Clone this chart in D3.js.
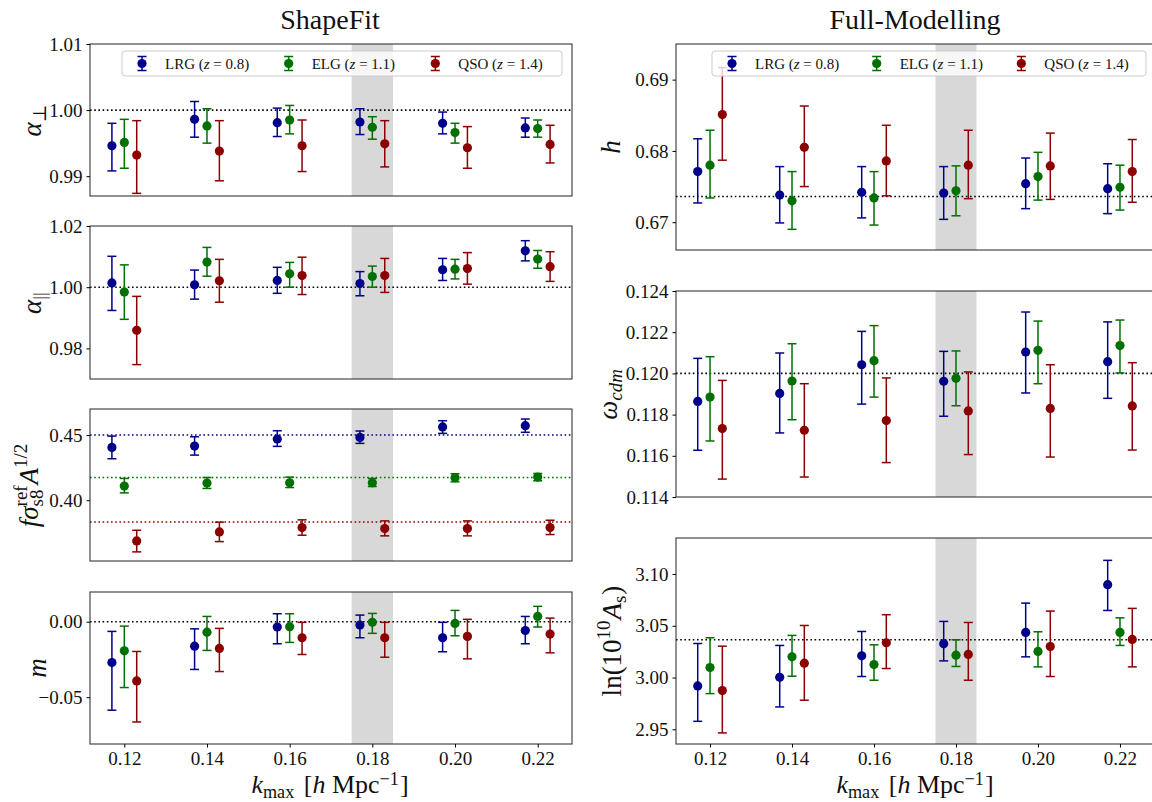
<!DOCTYPE html>
<html><head><meta charset="utf-8">
<script src="https://cdn.jsdelivr.net/npm/d3@7"></script>
<style>
body{margin:0;background:#fff;}
text{font-family:"Liberation Serif","DejaVu Serif",serif;fill:#111;white-space:pre;}
</style></head>
<body><svg id="c" width="1152" height="802"></svg>
<script>
// ---------- data ----------
const kmax = [0.12, 0.14, 0.16, 0.18, 0.20, 0.22];
const dodge = [-0.003, 0, 0.003];
const tracers = ["LRG", "ELG", "QSO"];
const redshifts = ["0.8", "1.1", "1.4"];
const colors = ["#00008b", "#007000", "#8b0000"];
const bandRange = [0.175, 0.185];
const xTicks = [0.12, 0.14, 0.16, 0.18, 0.20, 0.22];

// each entry: [value, lower, upper]
const aperpLRG = [[0.9946,0.9908,0.9980],[0.9986,0.9959,1.0013],[0.9981,0.9960,1.0003],[0.9982,0.9963,1.0002],[0.9980,0.9964,0.9997],[0.9973,0.9959,0.9988]];
const aperpELG = [[0.9951,0.9912,0.9986],[0.9976,0.9950,1.0002],[0.9985,0.9964,1.0007],[0.9974,0.9956,0.9990],[0.9966,0.9950,0.9980],[0.9972,0.9959,0.9985]];
const aperpQSO = [[0.9932,0.9874,0.9984],[0.9938,0.9893,0.9984],[0.9946,0.9907,0.9985],[0.9949,0.9914,0.9984],[0.9943,0.9912,0.9975],[0.9948,0.9920,0.9977]];

const aparLRG = [[1.0014,0.9924,1.0101],[1.0008,0.9961,1.0056],[1.0022,0.9980,1.0065],[1.0012,0.9972,1.0051],[1.0057,1.0022,1.0094],[1.0119,1.0086,1.0152]];
const aparELG = [[0.9984,0.9895,1.0073],[1.0082,1.0036,1.0130],[1.0044,1.0000,1.0081],[1.0035,1.0000,1.0069],[1.0059,1.0027,1.0091],[1.0092,1.0062,1.0120]];
const aparQSO = [[0.9859,0.9747,0.9970],[1.0021,0.9951,1.0091],[1.0038,0.9976,1.0098],[1.0038,0.9983,1.0094],[1.0061,1.0010,1.0113],[1.0067,1.0019,1.0116]];

const fsLRG = [[0.4405,0.4318,0.4492],[0.4415,0.4346,0.4487],[0.4469,0.4413,0.4533],[0.4482,0.4436,0.4531],[0.4562,0.4513,0.4610],[0.4572,0.4521,0.4623]];
const fsELG = [[0.4108,0.4056,0.4167],[0.4131,0.4090,0.4174],[0.4133,0.4097,0.4177],[0.4133,0.4105,0.4167],[0.4172,0.4141,0.4203],[0.4177,0.4149,0.4205]];
const fsQSO = [[0.3687,0.3603,0.3769],[0.3756,0.3682,0.3831],[0.3790,0.3731,0.3849],[0.3782,0.3726,0.3841],[0.3782,0.3726,0.3841],[0.3790,0.3736,0.3846]];
const fsRef = [0.450, 0.4174, 0.3833];

const mLRG = [[-0.0270,-0.0586,-0.0064],[-0.0162,-0.0316,-0.0047],[-0.0035,-0.0146,0.0053],[-0.0022,-0.0106,0.0044],[-0.0106,-0.0199,-0.0004],[-0.0058,-0.0146,0.0035]];
const mELG = [[-0.0193,-0.0436,-0.0029],[-0.0069,-0.0190,0.0035],[-0.0033,-0.0137,0.0053],[-0.0004,-0.0077,0.0055],[-0.0011,-0.0093,0.0075],[0.0035,-0.0035,0.0102]];
const mQSO = [[-0.0392,-0.0664,-0.0197],[-0.0177,-0.0330,-0.0044],[-0.0106,-0.0217,-0.0004],[-0.0106,-0.0235,-0.0004],[-0.0097,-0.0246,0.0016],[-0.0082,-0.0206,0.0024]];

const hLRG = [[0.6771,0.6727,0.6817],[0.6738,0.6699,0.6778],[0.6742,0.6706,0.6778],[0.6741,0.6704,0.6778],[0.6754,0.6719,0.6790],[0.6747,0.6712,0.6782]];
const hELG = [[0.6780,0.6734,0.6829],[0.6730,0.6690,0.6771],[0.6734,0.6696,0.6771],[0.6744,0.6709,0.6779],[0.6764,0.6731,0.6798],[0.6749,0.6717,0.6780]];
const hQSO = [[0.6851,0.6787,0.6917],[0.6805,0.6750,0.6863],[0.6786,0.6737,0.6836],[0.6780,0.6733,0.6829],[0.6779,0.6732,0.6825],[0.6771,0.6728,0.6816]];

const wcLRG = [[0.11864,0.11627,0.12073],[0.11903,0.11711,0.12099],[0.12042,0.11851,0.12204],[0.11962,0.11792,0.12107],[0.12104,0.11905,0.12298],[0.12057,0.11879,0.12250]];
const wcELG = [[0.11885,0.11672,0.12081],[0.11963,0.11775,0.12144],[0.12062,0.11885,0.12232],[0.11976,0.11843,0.12109],[0.12112,0.11950,0.12254],[0.12135,0.12002,0.12259]];
const wcQSO = [[0.11732,0.11487,0.11966],[0.11724,0.11497,0.11950],[0.11771,0.11567,0.11978],[0.11818,0.11606,0.12007],[0.11830,0.11594,0.12042],[0.11842,0.11628,0.12052]];

const asLRG = [[2.9919,2.9577,3.0329],[3.0003,2.9716,3.0310],[3.0210,3.0010,3.0445],[3.0326,3.0161,3.0542],[3.0436,3.0200,3.0719],[3.0897,3.0648,3.1132]];
const asELG = [[3.0097,2.9845,3.0384],[3.0200,3.0013,3.0407],[3.0126,2.9974,3.0316],[3.0216,3.0107,3.0365],[3.0252,3.0103,3.0442],[3.0436,3.0310,3.0577]];
const asQSO = [[2.9874,2.9465,3.0303],[3.0139,2.9781,3.0503],[3.0336,3.0087,3.0607],[3.0223,2.9974,3.0532],[3.0300,3.0010,3.0642],[3.0368,3.0103,3.0668]];

const aperpTicks = [0.99, 1.00, 1.01];
const aparTicks = [0.98, 1.00, 1.02];
const fsTicks = [0.40, 0.45];
const mTicks = [-0.05, 0.00];
const hTicks = [0.67, 0.68, 0.69];
const wcTicks = [0.114, 0.116, 0.118, 0.120, 0.122, 0.124];
const asTicks = [2.95, 3.00, 3.05, 3.10];

// ---------- layout ----------
const svg = d3.select("#c");
const xDomain = [0.1117, 0.2283];
const cols = [{x0: 90, x1: 572, title: "ShapeFit", cx: 330}, {x0: 676, x1: 1154, title: "Full-Modelling", cx: 915}];

const it = (t) => ({t, it: true});
const rm = (t) => ({t});
const panels = [
  {col: 0, top: 44, h: 152, dom: [0.987, 1.010], ticks: aperpTicks, fmt: ".2f", data: [aperpLRG, aperpELG, aperpQSO], refs: [[1.0, "#000"]], legend: true,
   lab: [it("α"), {t: "⊥", s: "sub"}], labX: 41},
  {col: 0, top: 226, h: 153, dom: [0.970, 1.020], ticks: aparTicks, fmt: ".2f", data: [aparLRG, aparELG, aparQSO], refs: [[1.0, "#000"]],
   lab: [it("α"), {t: "||", s: "sub"}], labX: 41},
  {col: 0, top: 409, h: 152, dom: [0.3533, 0.470], ticks: fsTicks, fmt: ".2f", data: [fsLRG, fsELG, fsQSO], refs: fsRef.map((v, i) => [v, colors[i]]),
   lab: [it("f"), it("σ"), {t: "ref", s: "sup"}, {t: "s8", s: "sub", stack: true}, it("A"), {t: "1/2", s: "sup"}], labX: 38},
  {col: 0, top: 592, h: 152, dom: [-0.081, 0.0197], ticks: mTicks, fmt: ".2f", data: [mLRG, mELG, mQSO], refs: [[0.0, "#000"]], bottom: true,
   lab: [it("m")], labX: 46},
  {col: 1, top: 44, h: 206, dom: [0.6661, 0.695], ticks: hTicks, fmt: ".2f", data: [hLRG, hELG, hQSO], refs: [[0.6736, "#000"]], legend: true,
   lab: [it("h")], labX: 620},
  {col: 1, top: 291, h: 206, dom: [0.114, 0.124], ticks: wcTicks, fmt: ".3f", data: [wcLRG, wcELG, wcQSO], refs: [[0.1200, "#000"]],
   lab: [it("ω"), {t: "cdm", s: "sub", it: true}], labX: 617},
  {col: 1, top: 538, h: 206, dom: [2.9358, 3.1348], ticks: asTicks, fmt: ".2f", data: [asLRG, asELG, asQSO], refs: [[3.0365, "#000"]], bottom: true,
   lab: [rm("ln(10"), {t: "10", s: "sup"}, it("A"), {t: "s", s: "sub"}, rm(")")], labX: 621}
];

// math-like text helper: pieces laid out horizontally, centered at 0
function math(g, pieces, fs, supShift = 0.42) {
  const inner = g.append("g");
  let x = 0, prevStart = 0, prevW = 0;
  pieces.forEach(p => {
    const size = p.s ? fs * 0.7 : fs;
    const dy = p.s === "sup" ? -supShift * fs : p.s === "sub" ? 0.2 * fs : 0;
    const sx = p.stack ? prevStart : x;
    const t = inner.append("text").attr("x", sx + (p.dx || 0)).attr("y", dy)
      .style("font-size", size + "px").style("font-style", p.it ? "italic" : "normal").text(p.t);
    const w = t.node().getComputedTextLength() + (p.dx || 0);
    if (p.stack) { x = prevStart + Math.max(prevW, w); }
    else { prevStart = sx; prevW = w; x = sx + w; }
    if (p.s) x += 1;
  });
  inner.attr("transform", `translate(${-x / 2},0)`);
  return x;
}

// titles
cols.forEach(c => {
  svg.append("text").attr("x", c.cx).attr("y", 29).attr("text-anchor", "middle")
    .style("font-size", "28px").text(c.title);
});

panels.forEach(p => {
  const c = cols[p.col];
  const x = d3.scaleLinear().domain(xDomain).range([c.x0, c.x1]);
  const y = d3.scaleLinear().domain(p.dom).range([p.top + p.h, p.top]);
  const g = svg.append("g");
  const clipId = "clip" + p.col + "_" + p.top;
  svg.append("clipPath").attr("id", clipId).append("rect")
    .attr("x", c.x0).attr("y", p.top).attr("width", c.x1 - c.x0).attr("height", p.h);
  const plot = g.append("g").attr("clip-path", `url(#${clipId})`);

  // shaded band
  plot.append("rect").attr("x", x(bandRange[0])).attr("width", x(bandRange[1]) - x(bandRange[0]))
    .attr("y", p.top).attr("height", p.h).attr("fill", "#d8d8d8");

  // reference lines
  p.refs.forEach(([v, col]) => {
    plot.append("line").attr("x1", c.x0).attr("x2", c.x1).attr("y1", y(v)).attr("y2", y(v))
      .attr("stroke", col).attr("stroke-width", 1.6).attr("stroke-dasharray", "1.6,2.6");
  });

  // error bars
  p.data.forEach((ser, si) => {
    const sg = plot.append("g");
    ser.forEach((d, ki) => {
      const xv = x(kmax[ki] + dodge[si]);
      sg.append("line").attr("x1", xv).attr("x2", xv).attr("y1", y(d[1])).attr("y2", y(d[2]))
        .attr("stroke", colors[si]).attr("stroke-width", 1.5);
      [d[1], d[2]].forEach(e => sg.append("line").attr("x1", xv - 4.5).attr("x2", xv + 4.5)
        .attr("y1", y(e)).attr("y2", y(e)).attr("stroke", colors[si]).attr("stroke-width", 1.5));
      sg.append("circle").attr("cx", xv).attr("cy", y(d[0])).attr("r", 4.6).attr("fill", colors[si]);
    });
  });

  // frame
  g.append("rect").attr("x", c.x0).attr("y", p.top).attr("width", c.x1 - c.x0).attr("height", p.h)
    .attr("fill", "none").attr("stroke", "#222").attr("stroke-width", 1);

  // y axis
  const ya = d3.axisLeft(y).tickValues(p.ticks).tickSize(3.5).tickPadding(4)
    .tickFormat(v => d3.format(p.fmt)(v).replace("-", "−"));
  const yg = g.append("g").attr("transform", `translate(${c.x0},0)`).call(ya);
  yg.select(".domain").remove();
  yg.selectAll("text").style("font-size", "19px").attr("fill", "#222")
    .style("font-family", '"Liberation Serif","DejaVu Serif",serif');

  // x axis
  if (p.bottom) {
    const xa = d3.axisBottom(x).tickValues(xTicks).tickSize(3.5).tickPadding(4).tickFormat(d3.format(".2f"));
    const xg = g.append("g").attr("transform", `translate(0,${p.top + p.h})`).call(xa);
    xg.select(".domain").remove();
    xg.selectAll("text").style("font-size", "19px").attr("fill", "#222")
      .style("font-family", '"Liberation Serif","DejaVu Serif",serif');
    const lg = svg.append("g").attr("transform", `translate(${c.cx},${p.top + p.h + 49})`);
    math(lg, [it("k"), {t: "max", s: "sub"}, {t: " [", dx: 2}, it("h"), rm(" Mpc"), {t: "−1", s: "sup"}, rm("]")], 26, 0.32);
  }

  // y label
  const lab = svg.append("g").attr("transform", `translate(${p.labX},${p.top + p.h / 2}) rotate(-90)`);
  math(lab, p.lab, 27);

  // legend
  if (p.legend) {
    const lx0 = c.x0 + (p.col === 0 ? 32 : 36), lx1 = c.x1 - (p.col === 0 ? 10 : 8);
    const leg = g.append("g");
    leg.append("rect").attr("x", lx0).attr("y", p.top + 7).attr("width", lx1 - lx0).attr("height", 25)
      .attr("rx", 3).attr("fill", "#fff").attr("fill-opacity", 0.8).attr("stroke", "#ccc").attr("stroke-width", 1);
    const step = (lx1 - lx0) / 3;
    tracers.forEach((t, i) => {
      const mx = lx0 + 20 + i * step, my = p.top + 19.5;
      leg.append("line").attr("x1", mx).attr("x2", mx).attr("y1", my - 7).attr("y2", my + 7)
        .attr("stroke", colors[i]).attr("stroke-width", 1.5);
      [my - 7, my + 7].forEach(e => leg.append("line").attr("x1", mx - 4.5).attr("x2", mx + 4.5)
        .attr("y1", e).attr("y2", e).attr("stroke", colors[i]).attr("stroke-width", 1.5));
      leg.append("circle").attr("cx", mx).attr("cy", my).attr("r", 4.6).attr("fill", colors[i]);
      const tx = leg.append("text").attr("x", mx + 23).attr("y", my + 5).style("font-size", "15px");
      tx.append("tspan").text(t + " (");
      tx.append("tspan").style("font-style", "italic").text("z");
      tx.append("tspan").text(" = " + redshifts[i] + ")");
    });
  }
});
</script></body></html>
